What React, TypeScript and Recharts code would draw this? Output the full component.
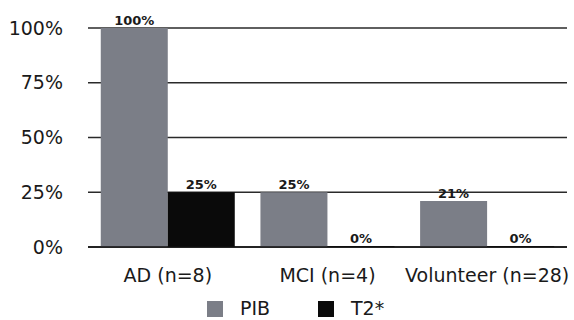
import React from 'react';
import { BarChart, Bar, XAxis, YAxis, CartesianGrid, Legend, LabelList } from 'recharts';

const groups = ['AD (n=8)', 'MCI (n=4)', 'Volunteer (n=28)'];
const pibValues = [100, 25, 21];
const t2Values = [25, 0, 0];
const yTicks = [0, 25, 50, 75, 100];
const seriesColors = { PIB: '#7b7e87', 'T2*': '#0a0a0a' };

const data = groups.map((g, i) => ({ group: g, PIB: pibValues[i], 'T2*': t2Values[i] }));

const FONT = '"DejaVu Sans", Verdana, sans-serif';
const INK = '#1a1a1a';

const pct = (v: any) => `${v}%`;

const labelStyle = { fill: INK, fontSize: 13, fontWeight: 700, fontFamily: FONT };

// legend drawn as a plain row of square swatches
const renderLegend = ({ payload }: any) => (
  <div style={{ display: 'flex', paddingLeft: 207, fontFamily: FONT, fontSize: 19, color: INK }}>
    {(payload || []).map((p: any) => (
      <div key={p.value} style={{ display: 'flex', alignItems: 'center', width: 111 }}>
        <span style={{ display: 'inline-block', width: 16, height: 16, background: p.color, marginRight: 17 }} />
        <span style={{ lineHeight: '19px' }}>{p.value}</span>
      </div>
    ))}
  </div>
);

const App: React.FC = () => {
  return (
    <div style={{ position: 'fixed', left: 0, top: 0, background: '#fff', fontFamily: FONT }}>
      <BarChart
        width={574}
        height={320}
        data={data}
        margin={{ top: 28, right: 7, left: 0, bottom: 14 }}
        barCategoryGap="8%"
        barGap={0}
      >
        <CartesianGrid vertical={false} stroke="#2a2a2a" strokeWidth={1.5} />
        <XAxis
          dataKey="group"
          axisLine={{ stroke: '#111', strokeWidth: 1.5 }}
          tickLine={false}
          tick={{ fill: INK, fontSize: 19, fontFamily: FONT }}
          tickMargin={16}
          height={40}
          interval={0}
        />
        <YAxis
          domain={[0, 100]}
          ticks={yTicks}
          tickFormatter={pct}
          axisLine={false}
          tickLine={false}
          width={88}
          tickMargin={19}
          tick={{ fill: INK, fontSize: 19, fontFamily: FONT }}
        />
        <Legend
          verticalAlign="bottom"
          content={renderLegend}
          wrapperStyle={{ left: 0, top: 299, width: 574 }}
        />
        <Bar dataKey="PIB" fill={seriesColors.PIB} isAnimationActive={false}>
          <LabelList dataKey="PIB" position="top" formatter={pct} offset={3} style={labelStyle} />
        </Bar>
        <Bar dataKey="T2*" fill={seriesColors['T2*']} minPointSize={1} isAnimationActive={false}>
          <LabelList dataKey="T2*" position="top" formatter={pct} offset={3} style={labelStyle} />
        </Bar>
      </BarChart>
    </div>
  );
};

export default App;
